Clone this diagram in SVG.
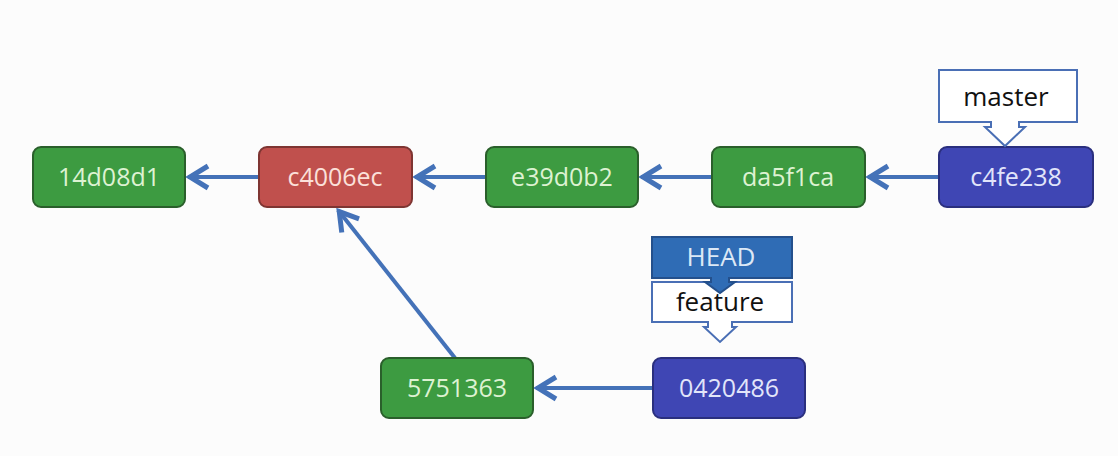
<svg xmlns="http://www.w3.org/2000/svg" width="1118" height="456" viewBox="0 0 1118 456">
<style>
.node rect{stroke-width:2}
.g rect{fill:#3D9B41;stroke:#2A5F2B}
.r rect{fill:#C0504D;stroke:#7E3532}
.b rect{fill:#3F46B4;stroke:#2A2F7E}
.nt{font-family:"Open Sans","Liberation Sans",sans-serif;font-size:25px;text-anchor:middle}
.g text{fill:#DDF2D2}
.r text{fill:#FBE0DA}
.b text{fill:#E2E5FA}
.lbl{font-family:"Open Sans","Liberation Sans",sans-serif;font-size:26px;text-anchor:middle;fill:#111}
.conn line{stroke:#4472B8;stroke-width:4;fill:none;marker-end:url(#arr)}
</style>
<defs>
<marker id="arr" markerUnits="userSpaceOnUse" markerWidth="30" markerHeight="30" viewBox="-26 -14 30 28" refX="0" refY="0" orient="auto">
<path d="M-20,-11 L-2,0 L-20,11" fill="none" stroke="#4472B8" stroke-width="5" stroke-linejoin="miter"/>
</marker>
</defs>
<rect x="0" y="0" width="1118" height="456" fill="#FCFCFC"/>
<g id="connectors" class="conn">
<line x1="259" y1="177" x2="188" y2="177"/>
<line x1="486" y1="177" x2="415" y2="177"/>
<line x1="712" y1="177" x2="641" y2="177"/>
<line x1="939" y1="177" x2="868" y2="177"/>
<line x1="653" y1="388" x2="536" y2="388"/>
<line x1="455" y1="358" x2="338" y2="210"/>
</g>
<g id="n14d08d1" class="node g"><rect x="33" y="147" width="152" height="60" rx="8"/><text class="nt" x="109" y="186">14d08d1</text></g>
<g id="nc4006ec" class="node r"><rect x="259" y="147" width="153" height="60" rx="8"/><text class="nt" x="335" y="186">c4006ec</text></g>
<g id="ne39d0b2" class="node g"><rect x="486" y="147" width="152" height="60" rx="8"/><text class="nt" x="562" y="186">e39d0b2</text></g>
<g id="nda5f1ca" class="node g"><rect x="712" y="147" width="153" height="60" rx="8"/><text class="nt" x="788" y="186">da5f1ca</text></g>
<g id="nc4fe238" class="node b"><rect x="939" y="147" width="154" height="60" rx="8"/><text class="nt" x="1016" y="186">c4fe238</text></g>
<g id="n5751363" class="node g"><rect x="381" y="358" width="152" height="60" rx="8"/><text class="nt" x="457" y="397">5751363</text></g>
<g id="n0420486" class="node b"><rect x="653" y="358" width="152" height="60" rx="8"/><text class="nt" x="729" y="397">0420486</text></g>
<g id="master">
<path d="M939,70 H1077 V122 H1019 V127 H1025 L1005,146 L985,127 H991 V122 H939 Z" fill="#FFFFFF" stroke="#4A6FB5" stroke-width="2"/>
<text class="lbl" x="1006" y="106">master</text>
</g>
<g id="feature">
<path d="M652,282 H792 V322 H732 V327 H736 L720,342 L704,327 H708 V322 H652 Z" fill="#FFFFFF" stroke="#4A6FB5" stroke-width="2"/>
<text class="lbl" x="720" y="311">feature</text>
</g>
<g id="head">
<path d="M652,237 H792 V278 H729 V282 H735 L720,293 L705,282 H711 V278 H652 Z" fill="#2F6CB5" stroke="#24508C" stroke-width="2"/>
<text class="lbl" x="721" y="266" fill="#DCE8F6" style="fill:#DCE8F6">HEAD</text>
</g>
</svg>
